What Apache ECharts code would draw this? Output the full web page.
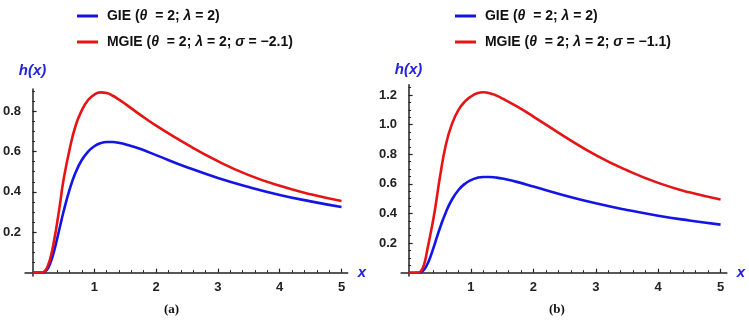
<!DOCTYPE html>
<html>
<head>
<meta charset="utf-8">
<script src="https://cdn.jsdelivr.net/npm/echarts@6/dist/echarts.min.js"></script>
<style>
  html, body { margin: 0; background: #fff; }
  #chart { width: 749px; height: 322px; }
</style>
</head>
<body>
<div id="chart"></div>
<script>
// values
const xValues = [0, 0.1, 0.15, 0.2, 0.25, 0.3, 0.35, 0.4, 0.45, 0.5, 0.6, 0.7, 0.8, 0.9, 1.0, 1.1, 1.2, 1.3, 1.4, 1.5, 1.75, 2.0, 2.5, 3.0, 3.5, 4.0, 4.5, 5.0];
const gieValues = [0, 0, 0.0003, 0.005, 0.022, 0.057, 0.108, 0.17, 0.235, 0.299, 0.411, 0.498, 0.559, 0.6, 0.626, 0.641, 0.647, 0.647, 0.643, 0.636, 0.612, 0.582, 0.522, 0.469, 0.424, 0.385, 0.353, 0.325];
const mgieValuesA = [0, 0, 0.0005, 0.008, 0.035, 0.085, 0.16, 0.25, 0.35, 0.455, 0.61, 0.73, 0.805, 0.855, 0.882, 0.893, 0.89, 0.876, 0.857, 0.836, 0.78, 0.728, 0.635, 0.552, 0.483, 0.43, 0.388, 0.355];
const mgieValuesB = [0, 0, 0.0007, 0.012, 0.058, 0.155, 0.26, 0.37, 0.5, 0.64, 0.87, 1.01, 1.1, 1.155, 1.19, 1.212, 1.219, 1.213, 1.198, 1.178, 1.12, 1.055, 0.92, 0.795, 0.692, 0.607, 0.543, 0.495];

const xMajorTicks = [1, 2, 3, 4, 5];
const xMinorTicks = [0.2, 0.4, 0.6, 0.8, 1.2, 1.4, 1.6, 1.8, 2.2, 2.4, 2.6, 2.8, 3.2, 3.4, 3.6, 3.8, 4.2, 4.4, 4.6, 4.8];
const yMajorTicksA = [0.2, 0.4, 0.6, 0.8];
const yMinorTicksA = [0.05, 0.1, 0.15, 0.25, 0.3, 0.35, 0.45, 0.5, 0.55, 0.65, 0.7, 0.75, 0.85, 0.9];
const yMajorTicksB = [0.2, 0.4, 0.6, 0.8, 1.0, 1.2];
const yMinorTicksB = [0.05, 0.1, 0.15, 0.25, 0.3, 0.35, 0.45, 0.5, 0.55, 0.65, 0.7, 0.75, 0.85, 0.9, 0.95, 1.05, 1.1, 1.15, 1.25];

const gieName = 'GIE (θ  = 2; λ = 2)';
const mgieNameA = 'MGIE (θ  = 2; λ = 2; σ = −2.1)';
const mgieNameB = 'MGIE (θ  = 2; λ = 2; σ = −1.1)';

const font = 'Liberation Sans, Arial, sans-serif';
const axisColor = '#222';
const nameStyle = { color: '#2323d9', fontStyle: 'italic', fontWeight: 'bold', fontSize: 15, fontFamily: font };

function pairs(ys) {
  return xValues.map((x, i) => [x, ys[i]]);
}

function xAxisPair(gridIndex) {
  const base = { type: 'value', gridIndex, min: -0.12, max: 5.1, position: 'bottom', splitLine: { show: false } };
  return [
    Object.assign({}, base, {
      name: 'x', nameLocation: 'end', nameGap: 10,
      nameTextStyle: nameStyle,
      axisLine: { onZero: true, lineStyle: { color: axisColor, width: 1.5 } },
      axisTick: { inside: true, length: 4, customValues: xMajorTicks, lineStyle: { color: axisColor, width: 1.2 } },
      axisLabel: { customValues: xMajorTicks, margin: 5, color: axisColor, fontWeight: 'bold', fontSize: 13, fontFamily: font }
    }),
    Object.assign({}, base, {
      axisLine: { show: false, onZero: true },
      axisTick: { inside: true, length: 2.5, customValues: xMinorTicks, lineStyle: { color: axisColor, width: 1 } },
      axisLabel: { show: false }
    })
  ];
}

function yAxisPair(gridIndex, min, max, major, minor, nameGap) {
  const base = { type: 'value', gridIndex, min, max, position: 'left', splitLine: { show: false } };
  return [
    Object.assign({}, base, {
      name: 'h(x)', nameLocation: 'end', nameGap,
      nameTextStyle: nameStyle,
      axisLine: { onZero: true, lineStyle: { color: axisColor, width: 1.5 } },
      axisTick: { inside: true, length: 4, customValues: major, lineStyle: { color: axisColor, width: 1.2 } },
      axisLabel: { customValues: major, margin: 4, color: axisColor, fontWeight: 'bold', fontSize: 13, fontFamily: font,
        formatter: v => v.toFixed(1) }
    }),
    Object.assign({}, base, {
      axisLine: { show: false, onZero: true },
      axisTick: { inside: true, length: 2.5, customValues: minor, lineStyle: { color: axisColor, width: 1 } },
      axisLabel: { show: false }
    })
  ];
}

function line(name, ys, color, axisIndex) {
  return {
    type: 'line', name, data: pairs(ys),
    xAxisIndex: axisIndex, yAxisIndex: axisIndex,
    symbol: 'none', showSymbol: false,
    smooth: 0.5,
    lineStyle: { color, width: 2.6 },
    itemStyle: { color }
  };
}

function legendName(name) {
  return ' ' + name.replace(/([θλσ])/g, '{g|$1}');
}

function legend(left, names) {
  return {
    data: names, left, top: 9, orient: 'vertical', padding: 0,
    icon: 'rect', itemWidth: 21, itemHeight: 3, itemGap: 12,
    formatter: legendName,
    textStyle: {
      color: '#111', fontWeight: 'bold', fontSize: 14, lineHeight: 14, fontFamily: font,
      rich: { g: { fontStyle: 'italic', fontWeight: 'bold', fontSize: 14, lineHeight: 14, fontFamily: font, color: '#111' } }
    }
  };
}

function caption(letter, left) {
  return {
    text: '{p|(}{b|' + letter + '}{p|)}', left, top: 303, padding: 0,
    textStyle: {
      rich: {
        p: { fontFamily: 'Liberation Serif, serif', fontSize: 13, color: '#111' },
        b: { fontFamily: 'Liberation Serif, serif', fontSize: 13, fontWeight: 'bold', color: '#111' }
      }
    }
  };
}

const chart = echarts.init(document.getElementById('chart'));
chart.setOption({
  animation: false,
  backgroundColor: '#fff',
  title: [caption('a', 164), caption('b', 549)],
  legend: [legend(77, [gieName, mgieNameA]), legend(455, [gieName, mgieNameB])],
  grid: [
    { left: 23.5, top: 88.9, width: 324.2, height: 187 },
    { left: 401.1, top: 84.7, width: 325.7, height: 191.3 }
  ],
  xAxis: [...xAxisPair(0), ...xAxisPair(1)],
  yAxis: [
    ...yAxisPair(0, -0.016, 0.91, yMajorTicksA, yMinorTicksA, 11),
    ...yAxisPair(1, -0.022, 1.27, yMajorTicksB, yMinorTicksB, 7)
  ],
  series: [
    line(gieName, gieValues, '#1414e6', 0),
    line(mgieNameA, mgieValuesA, '#e61414', 0),
    line(gieName, gieValues, '#1414e6', 2),
    line(mgieNameB, mgieValuesB, '#e61414', 2)
  ]
});
</script>
</body>
</html>
